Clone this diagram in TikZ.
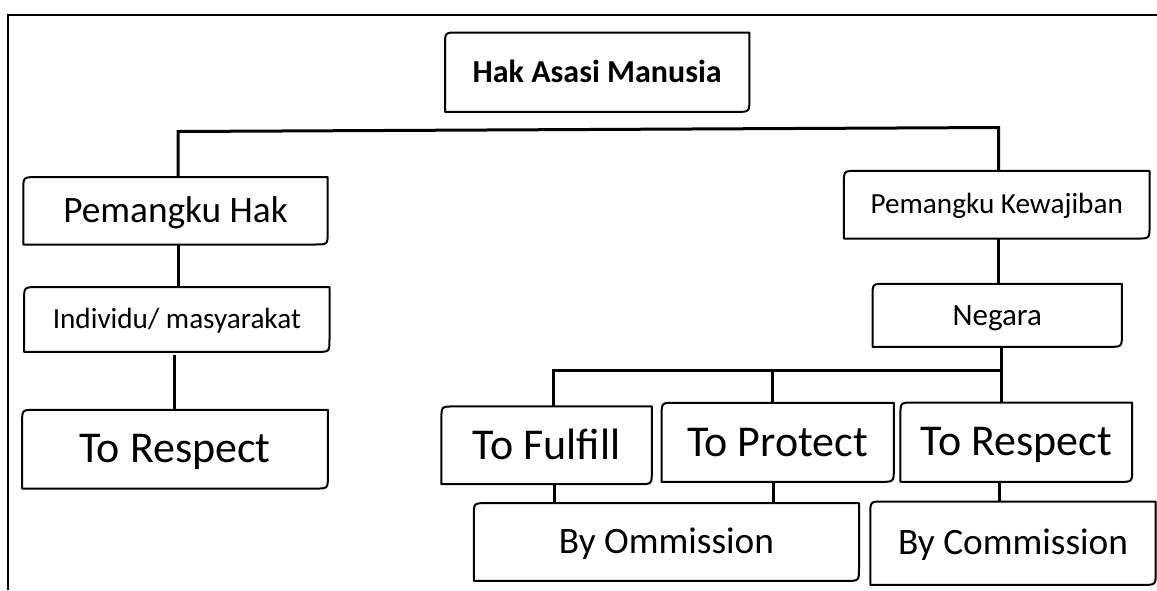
\documentclass[tikz,border=0pt]{standalone}
\usepackage{fontspec}
\setmainfont{Carlito}
\begin{document}
\begin{tikzpicture}[x=1pt,y=-1pt,
  box/.style={draw=none,inner sep=0pt,align=center},
  boxline/.style={line width=2pt,line join=round},
  conn/.style={line width=3pt},
  frame/.style={line width=1.8pt},
  fA/.style={font=\fontsize{44}{50}\selectfont,text height=27.5pt,text depth=0pt},
  fB/.style={font=\fontsize{37.3}{43}\selectfont,text height=23.5pt,text depth=0pt},
  fC/.style={font=\fontsize{29.2}{34}\selectfont,text height=18.4pt,text depth=0pt},
  fN/.style={font=\fontsize{31}{36}\selectfont,text height=19.5pt,text depth=0pt},
  fH/.style={font=\fontsize{32}{37}\selectfont\bfseries,text height=20.3pt,text depth=0pt}]
\useasboundingbox (0,0) rectangle (1157,590);
\draw[frame] (8.3,590) -- (8.3,15) -- (1157,15);

\node[box,fH,minimum width=304pt,minimum height=79pt] (hak) at (597.2,72.2) {Hak Asasi Manusia};
\node[box,fB,minimum width=304pt,minimum height=67pt] (pk) at (175.5,210.8) {Pemangku Hak};
\node[box,fC,minimum width=305pt,minimum height=64.4pt] (ind) at (176.8,319.5) {Individu/ masyarakat};
\node[box,fA,minimum width=305.4pt,minimum height=78.3pt] (trl) at (175,449.2) {To Respect};
\node[box,fC,minimum width=305.3pt,minimum height=67.3pt] (pkw) at (996.7,204.7) {Pemangku Kewajiban};
\node[box,fN,minimum width=249pt,minimum height=62.7pt] (neg) at (997.2,315.3) {Negara};
\node[box,fA,minimum width=210pt,minimum height=77.3pt] (tf) at (546.6,445.3) {To Fulfill};
\node[box,fA,minimum width=231.8pt,minimum height=78.7pt] (tp) at (777.7,442.3) {To Protect};
\node[box,fA,minimum width=231.4pt,minimum height=79pt] (trr) at (1016.3,442.2) {To Respect};
\node[box,fB,minimum width=384.8pt,minimum height=77.4pt] (bo) at (666.4,542) {By Ommission};
\node[box,fB,minimum width=285pt,minimum height=83pt] (bc) at (1013,543.2) {By Commission};

\foreach \n in {hak,pk,ind,trl,pkw,neg,tf,tp,trr,bo,bc}{
  \draw[boxline] (\n.south west) -- ([yshift=-13pt]\n.north west)
    .. controls (\n.north west) .. ([xshift=13pt]\n.north west)
    -- (\n.north east) -- ([yshift=13pt]\n.south east)
    .. controls (\n.south east) .. ([xshift=-13pt]\n.south east) -- cycle;
}

% top level
\coordinate (jl) at (178,131.5);
\coordinate (jr) at (998.5,127.5);
\draw[conn] (pk.north -| jl) -- (jl) -- (jr) -- (pkw.north -| jr);
% left branch
\coordinate (xl1) at (178,0);
\coordinate (xl2) at (174,0);
\draw[conn] (pk.south -| xl1) -- (ind.north -| xl1);
\draw[conn] ([yshift=-3pt]ind.south -| xl2) -- (trl.north -| xl2);
% right branch
\draw[conn] (pkw.south -| jr) -- (neg.north -| jr);
\coordinate (nb) at (1001,370);
\coordinate (b1) at (553,370);
\coordinate (b2) at (772,370);
\draw[conn] (neg.south -| nb) -- (trr.north -| nb);
\draw[conn] (tf.north -| b1) -- (b1) -- (nb);
\draw[conn] (b2) -- (tp.north -| b2);
\coordinate (c1) at (554,0);
\coordinate (c2) at (773,0);
\coordinate (c3) at (999.3,0);
\draw[conn] (tf.south -| c1) -- (bo.north -| c1);
\draw[conn] (tp.south -| c2) -- (bo.north -| c2);
\draw[conn] (trr.south -| c3) -- (bc.north -| c3);
\end{tikzpicture}
\end{document}
